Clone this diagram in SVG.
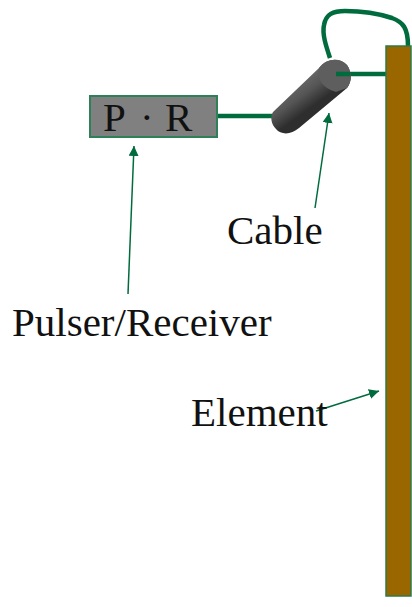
<svg xmlns="http://www.w3.org/2000/svg" width="412" height="607" viewBox="0 0 412 607">
<defs>
<marker id="arrow" markerUnits="userSpaceOnUse" markerWidth="12" markerHeight="12" refX="10" refY="5" orient="auto"><path d="M0,0L10,5L0,10Z" fill="#006b3c"/></marker>
<linearGradient id="cyl" gradientUnits="userSpaceOnUse" x1="300" y1="82" x2="316" y2="104"><stop offset="0" stop-color="#666"/><stop offset="0.45" stop-color="#555"/><stop offset="1" stop-color="#2e2e2e"/></linearGradient>
</defs>
<style>
.t{font-family:"Liberation Serif","Times New Roman",serif;fill:#111;font-size:41px}
.w{fill:none;stroke:#006b3c;stroke-width:4.5}
.a{fill:none;stroke:#006b3c;stroke-width:1.5;marker-end:url(#arrow)}
</style>
<g id="connectors">
<path class="w" d="M217,116H276"/>
<path class="w" d="M330,58C326,46 322,34 324,25C326,14 333,11 345,11C362,11 380,14 392,18C403,22 408,28 408,46"/>
<path class="w" d="M336,74H386"/>
<path class="a" d="M128,294L134,146"/>
<path class="a" d="M315,208L329,113"/>
<path class="a" d="M316,411L379,391"/>
</g>
<g id="pulser-receiver"><rect x="90" y="96" width="127" height="41" fill="#808080" stroke="#2e8059" stroke-width="2"/><text class="t" x="103" y="131">P</text><text class="t" x="140" y="131">·</text><text class="t" x="165" y="131">R</text></g>
<g id="probe"><path d="M273,112L319,68C326,58 340,57 347,65C352,72 352,82 347,88L299,128C291,135 281,135 276,129C271,124 270,117 273,112Z" fill="url(#cyl)"/><path d="M319,68C316,78 322,88 336,92L347,88C352,82 352,72 347,65C340,57 326,58 319,68Z" fill="#5e5e5e"/><path class="w" d="M336,74H350"/></g>
<g id="element"><rect x="386" y="46" width="25" height="550" fill="#996600" stroke="#2f7a45" stroke-width="1.5"/></g>
<g id="labels"><text class="t" x="227" y="244">Cable</text><text class="t" x="12" y="336">Pulser/Receiver</text><text class="t" x="191" y="426">Element</text></g>
</svg>
